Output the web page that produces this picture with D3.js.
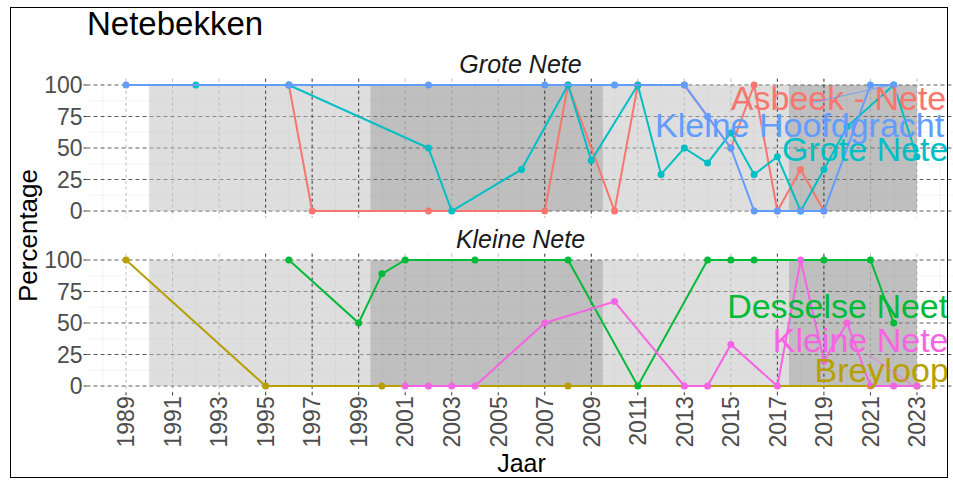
<!DOCTYPE html>
<html>
<head>
<meta charset="utf-8">
<script src="https://cdn.jsdelivr.net/npm/d3@7"></script>
<style>
body { margin: 0; background: #fff; }
svg text { font-family: "Liberation Sans", Arial, sans-serif; }
</style>
</head>
<body>
<div class="canva"></div>
<script>
// data: [jaar, percentage]
const asbeekNete = [[1996,100],[1997,0],[2002,0],[2007,0],[2008,100],[2010,0],[2011,100],[2013,100],[2015,50],[2016,100],[2017,0],[2018,33],[2019,0]];
const groteNete = [[1992,100],[1996,100],[2002,50],[2003,0],[2006,33],[2008,100],[2009,40],[2011,100],[2012,29],[2013,50],[2014,38],[2015,62],[2016,29],[2017,43],[2018,0],[2019,33],[2020,67],[2022,100],[2023,43]];
const kleineHoofdgracht = [[1989,100],[1996,100],[2002,100],[2007,100],[2010,100],[2013,100],[2014,75],[2015,50],[2016,0],[2017,0],[2018,0],[2019,0],[2021,100],[2022,100]];
const breyloop = [[1989,100],[1995,0],[2000,0],[2008,0],[2023,0]];
const desselseNeet = [[1996,100],[1999,50],[2000,89],[2001,100],[2004,100],[2008,100],[2011,0],[2014,100],[2015,100],[2016,100],[2019,100],[2021,100],[2022,50]];
const kleineNete = [[2001,0],[2002,0],[2003,0],[2004,0],[2007,50],[2010,67],[2013,0],[2014,0],[2015,33],[2017,0],[2018,100],[2019,20],[2020,50],[2021,0],[2022,0],[2023,0]];

const xTicks = d3.range(1989, 2024, 2);
const yTicks = [0, 25, 50, 75, 100];
const periods = [[1990, 1999.5, "light"], [1999.5, 2009.5, "dark"], [2009.5, 2017.5, "light"], [2017.5, 2023, "dark"]];
const markYears = [1995, 1997, 1999, 2007, 2009, 2017, 2019];

const colors = {
    "Asbeek - Nete": "#F8766D", "Breyloop": "#B79F00", "Desselse Neet": "#00BA38",
    "Grote Nete": "#00BFC4", "Kleine Hoofdgracht": "#619CFF", "Kleine Nete": "#F564E3"
};

// label spots in data units (ggrepel placed them), plus optional segment start
const panels = [
    {title: "Grote Nete", top: 78.7, series: [
        {name: "Asbeek - Nete", data: asbeekNete, lx: 2015.0, ly: 80},
        {name: "Grote Nete", data: groteNete, lx: 2017.2, ly: 39.7},
        {name: "Kleine Hoofdgracht", data: kleineHoofdgracht, lx: 2011.74, ly: 58.7, seg: [2018.5, 86]}
    ]},
    {title: "Kleine Nete", top: 253.7, series: [
        {name: "Breyloop", data: breyloop, lx: 2018.6, ly: 3.2},
        {name: "Desselse Neet", data: desselseNeet, lx: 2014.84, ly: 54},
        {name: "Kleine Nete", data: kleineNete, lx: 2016.8, ly: 27, seg: [2020.9, 25]}
    ]}
];

const panelH = 138.6;
const svg = d3.select(".canva").append("svg")
    .attr("width", 953)
    .attr("height", 482);

const x = d3.scaleLinear().domain([1987.3, 2024.7]).range([86.5, 956.5]);
const x0 = x.range()[0], x1 = x.range()[1];

panels.forEach(p => {
    const y = d3.scaleLinear().domain([-5, 105]).range([p.top + panelH, p.top]);
    const g = svg.append("g");

    // minor grid
    g.selectAll(".vminor").data(d3.range(1988, 2025, 2)).enter().append("line")
        .attr("x1", d => x(d)).attr("x2", d => x(d))
        .attr("y1", p.top).attr("y2", p.top + panelH)
        .attr("stroke", "#ebebeb").attr("stroke-width", 0.6);
    g.selectAll(".hminor").data([12.5, 37.5, 62.5, 87.5]).enter().append("line")
        .attr("x1", x0).attr("x2", x1)
        .attr("y1", d => y(d)).attr("y2", d => y(d))
        .attr("stroke", "#ebebeb").attr("stroke-width", 0.6);
    // major grid
    g.selectAll(".vmajor").data(xTicks).enter().append("line")
        .attr("x1", d => x(d)).attr("x2", d => x(d))
        .attr("y1", p.top).attr("y2", p.top + panelH)
        .attr("stroke", "#999").attr("stroke-width", 0.7)
        .attr("stroke-dasharray", "3,3");
    g.selectAll(".hmajor").data(yTicks).enter().append("line")
        .attr("x1", x0).attr("x2", x1)
        .attr("y1", d => y(d)).attr("y2", d => y(d))
        .attr("stroke", "#333").attr("stroke-width", 0.8)
        .attr("stroke-dasharray", "4,3");

    // shaded periods
    g.selectAll(".period").data(periods).enter().append("rect")
        .attr("x", d => x(d[0]))
        .attr("width", d => x(d[1]) - x(d[0]))
        .attr("y", y(100))
        .attr("height", y(0) - y(100))
        .attr("fill", d => d[2] == "light" ? "#bdbdbd" : "#7f7f7f")
        .attr("fill-opacity", 0.5);

    g.selectAll(".mark").data(markYears).enter().append("line")
        .attr("x1", d => x(d)).attr("x2", d => x(d))
        .attr("y1", p.top).attr("y2", p.top + panelH)
        .attr("stroke", "#222").attr("stroke-width", 0.8)
        .attr("stroke-dasharray", "3,3");

    // series, alphabetical so the drawing order matches ggplot
    const ordered = p.series.slice().sort((a, b) => d3.ascending(a.name, b.name));
    const line = d3.line().x(d => x(d[0])).y(d => y(d[1]));
    ordered.forEach(s => {
        g.append("path")
            .attr("d", line(s.data))
            .attr("fill", "none")
            .attr("stroke", colors[s.name])
            .attr("stroke-width", 2);
        g.selectAll(null).data(s.data).enter().append("circle")
            .attr("cx", d => x(d[0])).attr("cy", d => y(d[1]))
            .attr("r", 3.5)
            .attr("fill", colors[s.name]);
    });

    ordered.forEach(s => {
        if (s.seg) {
            const last = s.data[s.data.length - 1];
            g.append("line")
                .attr("x1", x(s.seg[0])).attr("y1", y(s.seg[1]))
                .attr("x2", x(last[0]) - 3).attr("y2", y(last[1]))
                .attr("stroke", colors[s.name]).attr("stroke-width", 0.8);
        }
        g.append("text")
            .attr("x", x(s.lx)).attr("y", y(s.ly))
            .attr("fill", colors[s.name])
            .style("font-size", "34px")
            .text(s.name);
    });

    // strip title
    svg.append("text")
        .attr("x", (x0 + x1) / 2 - 1).attr("y", p.top - 6)
        .attr("text-anchor", "middle")
        .style("font-size", "25px").style("font-style", "italic")
        .attr("fill", "#1a1a1a")
        .text(p.title);

    // y axis
    g.selectAll(".ytick").data(yTicks).enter().append("line")
        .attr("x1", x0 - 3).attr("x2", x0)
        .attr("y1", d => y(d)).attr("y2", d => y(d))
        .attr("stroke", "#333");
    g.selectAll(".ylab").data(yTicks).enter().append("text")
        .attr("x", x0 - 4).attr("y", d => y(d))
        .attr("dy", "0.36em")
        .attr("text-anchor", "end")
        .attr("fill", "#4d4d4d")
        .style("font-size", "23px")
        .text(d => d);
});

// x axis below the lower panel
const bottom = panels[1].top + panelH;
svg.selectAll(".xtick").data(xTicks).enter().append("line")
    .attr("x1", d => x(d)).attr("x2", d => x(d))
    .attr("y1", bottom).attr("y2", bottom + 3)
    .attr("stroke", "#333");
svg.selectAll(".xlab").data(xTicks).enter().append("text")
    .attr("transform", d => `translate(${x(d)},${bottom + 4}) rotate(-90)`)
    .attr("text-anchor", "end")
    .attr("dy", "0.36em")
    .attr("fill", "#4d4d4d")
    .style("font-size", "23px")
    .text(d => d);

svg.append("text")
    .attr("x", (x0 + x1) / 2).attr("y", 472)
    .attr("text-anchor", "middle")
    .style("font-size", "25px")
    .text("Jaar");

svg.append("text")
    .attr("transform", `translate(37,${(panels[0].top + bottom) / 2}) rotate(-90)`)
    .attr("text-anchor", "middle")
    .style("font-size", "26px")
    .text("Percentage");

svg.append("text")
    .attr("x", 87).attr("y", 35)
    .style("font-size", "33px")
    .text("Netebekken");

svg.append("rect")
    .attr("x", 10.5).attr("y", 7.5)
    .attr("width", 937).attr("height", 470)
    .attr("fill", "none")
    .attr("stroke", "#000");
</script>
</body>
</html>
